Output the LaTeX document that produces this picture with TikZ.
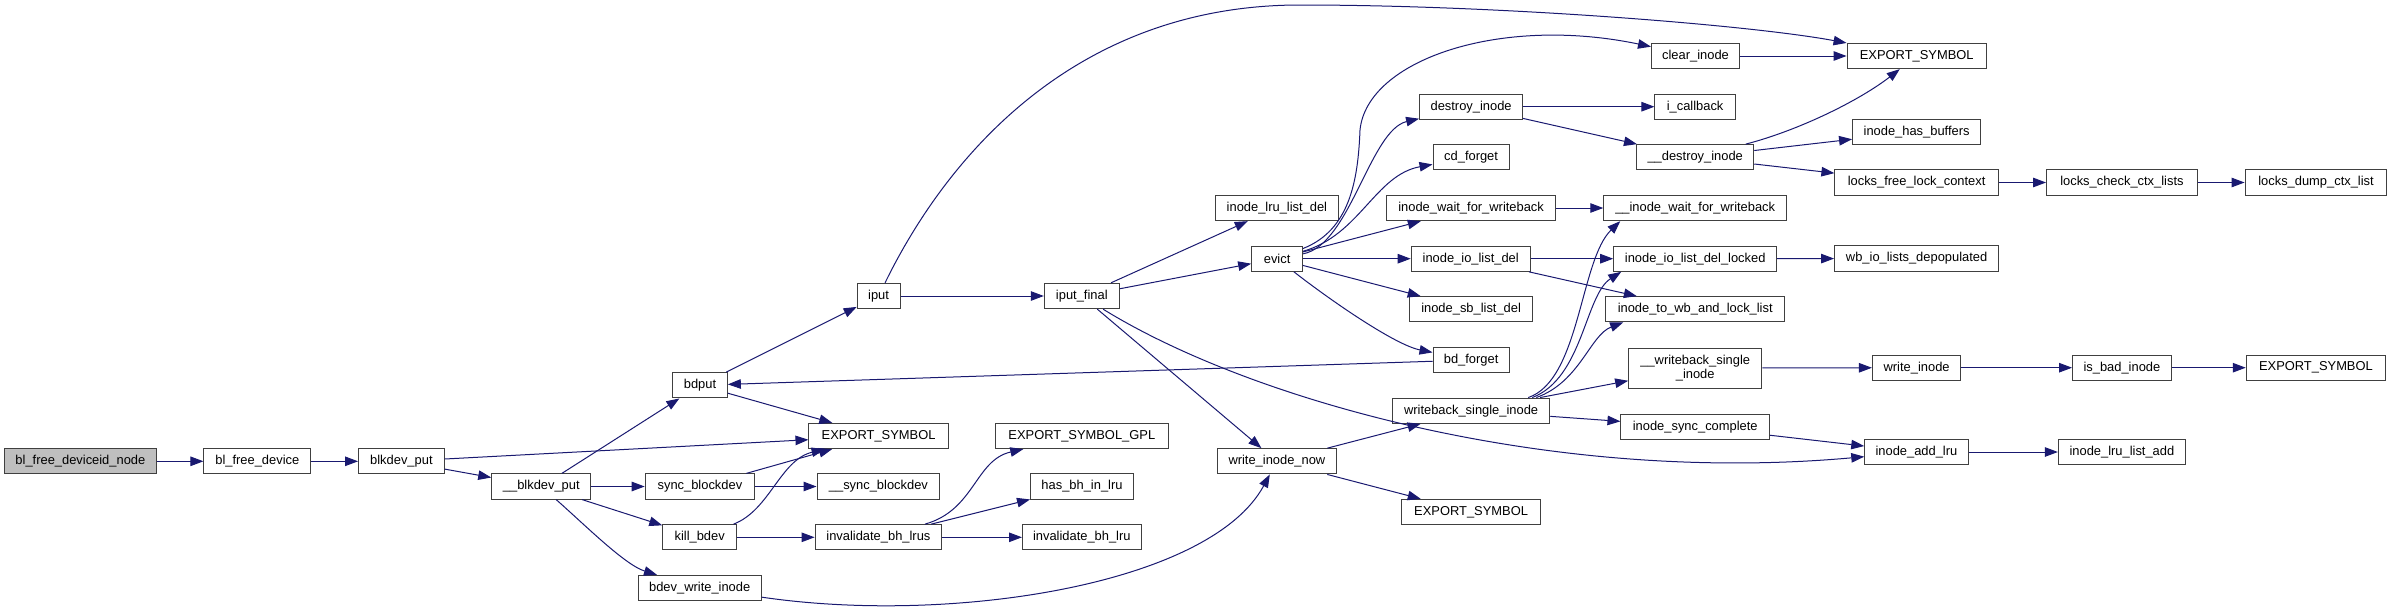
\documentclass[tikz,border=0pt]{standalone}
\usepackage{fontspec}
\setmainfont{Liberation Sans}
\usetikzlibrary{arrows.meta}
\definecolor{edgeblue}{RGB}{25,25,112}
\definecolor{rootgray}{RGB}{191,191,191}
\definecolor{boxline}{RGB}{64,64,64}

\begin{document}
\begin{tikzpicture}[x=1pt,y=-1pt,font=\fontsize{12.9}{14.5}\selectfont,
  >={Triangle[length=13pt,width=9.5pt]},
  b/.style={draw=boxline,line width=1pt,fill=white,minimum height=25.3pt,inner xsep=3pt,inner ysep=1pt,align=center},
  ln/.style={->,draw=edgeblue,line width=1pt}]
\useasboundingbox (0,0) rectangle (2392,613);
\node[b,fill=rootgray,minimum width=151.5pt] (root) at (80.4,461.3) {bl\_free\_deviceid\_node};
\node[b,minimum width=106.7pt] (blfd) at (257.3,461.3) {bl\_free\_device};
\node[b,minimum width=85.7pt] (blkput) at (401.4,461.3) {blkdev\_put};
\node[b,minimum width=99.1pt] (ublkput) at (541.3,486.5) {\_\_blkdev\_put};
\node[b,minimum width=54.7pt] (bdput) at (700,385.3) {bdput};
\node[b,minimum width=109.4pt] (syncbd) at (699.9,486.5) {sync\_blockdev};
\node[b,minimum width=73.8pt] (killbd) at (699.7,537.3) {kill\_bdev};
\node[b,minimum width=122.8pt] (bdevwi) at (699.7,588) {bdev\_write\_inode};
\node[b,minimum width=42.8pt] (iput) at (878.6,296) {iput};
\node[b,minimum width=139.3pt] (expA) at (878.6,436) {EXPORT\_SYMBOL};
\node[b,minimum width=122.8pt] (usyncbd) at (878.4,486.5) {\_\_sync\_blockdev};
\node[b,minimum width=126.6pt] (invlrus) at (878.4,537.3) {invalidate\_bh\_lrus};
\node[b,minimum width=75pt] (iputf) at (1081.8,296) {iput\_final};
\node[b,minimum width=173pt] (expgpl) at (1081.8,436) {EXPORT\_SYMBOL\_GPL};
\node[b,minimum width=102.9pt] (hasbh) at (1082,486.5) {has\_bh\_in\_lru};
\node[b,minimum width=118.6pt] (invlru) at (1081.8,537.3) {invalidate\_bh\_lru};
\node[b,minimum width=123.2pt] (lrudel) at (1276.9,208) {inode\_lru\_list\_del};
\node[b,minimum width=50.9pt] (evict) at (1277.1,258.7) {evict};
\node[b,minimum width=118.6pt] (wino) at (1276.9,461.3) {write\_inode\_now};
\node[b,minimum width=103pt] (destroy) at (1471.1,106.7) {destroy\_inode};
\node[b,minimum width=76.2pt] (cdforget) at (1471.1,157.3) {cd\_forget};
\node[b,minimum width=169.5pt] (iwait) at (1471.1,208) {inode\_wait\_for\_writeback};
\node[b,minimum width=119pt] (iodel) at (1470.7,258.7) {inode\_io\_list\_del};
\node[b,minimum width=122.8pt] (sbdel) at (1471.1,309.3) {inode\_sb\_list\_del};
\node[b,minimum width=76.2pt] (bdforget) at (1471.1,360) {bd\_forget};
\node[b,minimum width=157.3pt] (wbsingle) at (1471.1,410.7) {writeback\_single\_inode};
\node[b,minimum width=138.9pt] (expB) at (1471.1,512) {EXPORT\_SYMBOL};
\node[b,minimum width=88pt] (clear) at (1695.5,56) {clear\_inode};
\node[b,minimum width=80.3pt] (icb) at (1695.1,106.7) {i\_callback};
\node[b,minimum width=117.1pt] (udestroy) at (1695.2,157.3) {\_\_destroy\_inode};
\node[b,minimum width=182.9pt] (uiwait) at (1695.2,208) {\_\_inode\_wait\_for\_writeback};
\node[b,minimum width=163pt] (iodellk) at (1695.2,258.7) {inode\_io\_list\_del\_locked};
\node[b,minimum width=179.1pt] (towb) at (1695.2,309.3) {inode\_to\_wb\_and\_lock\_list};
\node[b,minimum width=133.1pt,minimum height=40pt] (uwbsingle) at (1695.2,368) {\_\_writeback\_single\\\_inode};
\node[b,minimum width=148.5pt] (isync) at (1695.2,426.7) {inode\_sync\_complete};
\node[b,minimum width=139.3pt] (expC) at (1916.7,56) {EXPORT\_SYMBOL};
\node[b,minimum width=128.1pt] (hasbuf) at (1916.6,131.8) {inode\_has\_buffers};
\node[b,minimum width=163.4pt] (lfree) at (1916.6,182.5) {locks\_free\_lock\_context};
\node[b,minimum width=164.1pt] (wbdepop) at (1916.6,258.5) {wb\_io\_lists\_depopulated};
\node[b,minimum width=88.4pt] (wrino) at (1916.6,367.7) {write\_inode};
\node[b,minimum width=103.3pt] (addlru) at (1916.4,452) {inode\_add\_lru};
\node[b,minimum width=150.7pt] (lcheck) at (2121.9,182.5) {locks\_check\_ctx\_lists};
\node[b,minimum width=98.7pt] (badino) at (2121.9,367.7) {is\_bad\_inode};
\node[b,minimum width=127.1pt] (lruadd) at (2121.9,452) {inode\_lru\_list\_add};
\node[b,minimum width=141.9pt] (ldump) at (2316,182.5) {locks\_dump\_ctx\_list};
\node[b,minimum width=139.3pt] (expD) at (2315.9,367.7) {EXPORT\_SYMBOL};
\draw[ln] (root) -- (blfd);
\draw[ln] (blfd) -- (blkput);
\draw[ln] (blkput) -- (expA);
\draw[ln] (blkput) -- (ublkput);
\draw[ln] (ublkput) -- (bdput);
\draw[ln] (ublkput) -- (syncbd);
\draw[ln] (ublkput) -- (killbd);
\draw[ln] (ublkput) .. controls (585,525) and (625,565) .. (bdevwi);
\draw[ln] (bdput) -- (iput);
\draw[ln] (bdput) -- (expA);
\draw[ln] (syncbd) -- (expA);
\draw[ln] (syncbd) -- (usyncbd);
\draw[ln] (killbd) .. controls (770,510) and (780,460) .. (expA);
\draw[ln] (killbd) -- (invlrus);
\draw[ln] (bdevwi) .. controls (950,625) and (1210,585) .. (wino);
\draw[ln] (iput) -- (iputf);
\draw[ln] (iput) .. controls (950,150) and (1080,5) .. (1300,5) .. controls (1500,5) and (1750,25) .. (expC);
\draw[ln] (invlrus) .. controls (975,510) and (975,460) .. (expgpl);
\draw[ln] (invlrus) -- (hasbh);
\draw[ln] (invlrus) -- (invlru);
\draw[ln] (iputf) -- (lrudel);
\draw[ln] (iputf) -- (evict);
\draw[ln] (iputf) -- (wino);
\draw[ln] (iputf) .. controls (1250,400) and (1550,485) .. (addlru);
\draw[ln] (evict) .. controls (1350,230) and (1358,180) .. (1360,130) .. controls (1367,60) and (1500,15) .. (clear);
\draw[ln] (evict) .. controls (1350,245) and (1370,130) .. (destroy);
\draw[ln] (evict) .. controls (1360,235) and (1375,175) .. (cdforget);
\draw[ln] (evict) -- (iwait);
\draw[ln] (evict) -- (iodel);
\draw[ln] (evict) -- (sbdel);
\draw[ln] (evict) .. controls (1330,300) and (1395,345) .. (bdforget);
\draw[ln] (bdforget) -- (bdput);
\draw[ln] (wino) -- (wbsingle);
\draw[ln] (wino) -- (expB);
\draw[ln] (destroy) -- (icb);
\draw[ln] (destroy) -- (udestroy);
\draw[ln] (clear) -- (expC);
\draw[ln] (udestroy) .. controls (1800,130) and (1860,100) .. (expC);
\draw[ln] (udestroy) -- (hasbuf);
\draw[ln] (udestroy) -- (lfree);
\draw[ln] (lfree) -- (lcheck);
\draw[ln] (lcheck) -- (ldump);
\draw[ln] (iwait) -- (uiwait);
\draw[ln] (iodel) -- (iodellk);
\draw[ln] (iodel) -- (towb);
\draw[ln] (iodellk) -- (wbdepop);
\draw[ln] ([xshift=-22pt]wbsingle.north east) .. controls (1580,380) and (1580,260) .. ([xshift=17pt]uiwait.south west);
\draw[ln] ([xshift=-18pt]wbsingle.north east) .. controls (1583,378) and (1585,295) .. ([xshift=8pt]iodellk.south west);
\draw[ln] ([xshift=-14pt]wbsingle.north east) .. controls (1580,382) and (1590,335) .. ([xshift=18pt]towb.south west);
\draw[ln] (wbsingle) -- (uwbsingle);
\draw[ln] (wbsingle) -- (isync);
\draw[ln] (uwbsingle) -- (wrino);
\draw[ln] (wrino) -- (badino);
\draw[ln] (badino) -- (expD);
\draw[ln] (isync) -- (addlru);
\draw[ln] (addlru) -- (lruadd);
\end{tikzpicture}
\end{document}
